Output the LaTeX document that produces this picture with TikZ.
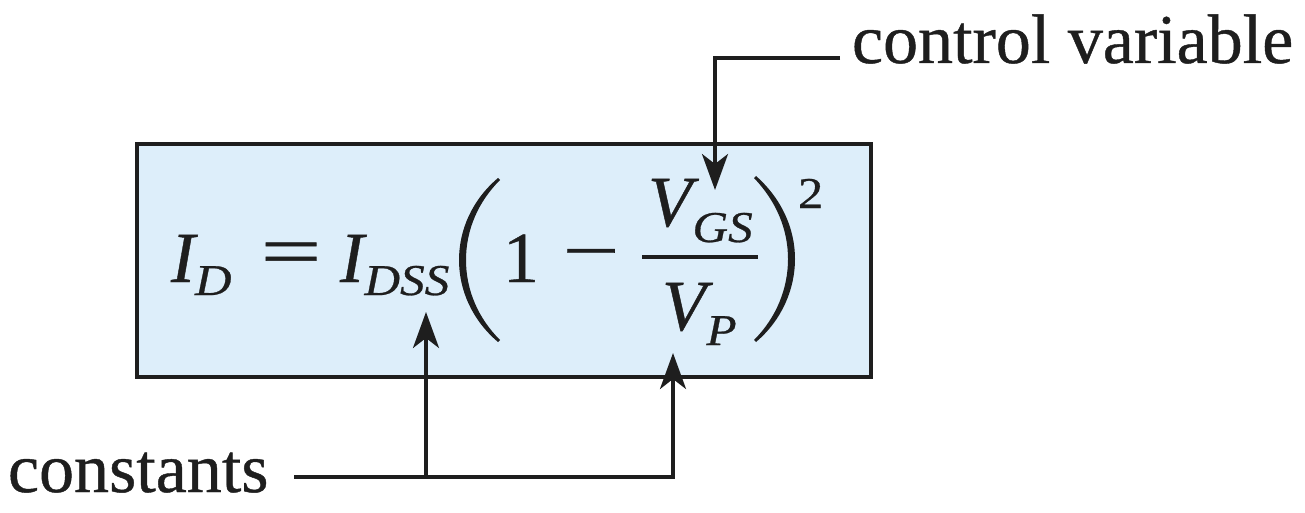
\documentclass[tikz,border=0pt]{standalone}
\usepackage{fontspec}
\setmainfont{Liberation Serif}[FakeBold=0.6, ItalicFeatures={FakeBold=0.6}]
\usetikzlibrary{arrows.meta}
\definecolor{boxfill}{RGB}{221,238,250}
\definecolor{ink}{RGB}{30,30,30}
\tikzset{
  lbl/.style={font=\fontsize{70}{80}\selectfont, text=ink, inner sep=0pt, outer sep=0pt},
  eqm/.style={font=\fontsize{72}{80}\selectfont\itshape, text=ink, inner sep=0pt, outer sep=0pt},
  eqs/.style={font=\fontsize{44}{50}\selectfont\itshape, text=ink, inner sep=0pt, outer sep=0pt},
  eqr/.style={font=\fontsize{72}{80}\selectfont, text=ink, inner sep=0pt, outer sep=0pt},
  eqsup/.style={font=\fontsize{44}{50}\selectfont, text=ink, inner sep=0pt, outer sep=0pt},
  conn/.style={draw=ink, line width=3.5pt, -{Stealth[length=36pt,width=26pt,inset=10pt]}},
  frame/.style={draw=ink, line width=4pt, fill=boxfill},
}
\begin{document}
\begin{tikzpicture}[x=1pt,y=-1pt]
\useasboundingbox (0,0) rectangle (1305,513);
% box
\path[frame] (137,144) rectangle (871,377);
% equation
\node[eqm, anchor=base west] (iD) at (171,282) {I};
\node[eqs, anchor=base west] (iDs) at (195,295) {\scalebox{1.15}[1]{D}};
\node[eqr] (eq) at (291,259) {\scalebox{1.5}[1]{=}};
\node[eqm, anchor=base west] (iDSS) at (340,282) {I};
\node[eqs, anchor=base west] (iDSSs) at (364.5,295) {\scalebox{1.12}[1]{DSS}};
\fill[ink] (498,178) .. controls (472,200) and (459,230) .. (459,260) .. controls (459,290) and (472,320) .. (498,342) -- (500,340) .. controls (478,318) and (466,290) .. (466,260) .. controls (466,230) and (478,202) .. (500,180) -- cycle;
\node[eqr, anchor=base] (one) at (521,282) {1};
\node[eqr] (minus) at (591,262) {\scalebox{1.4}[1]{−}};
\draw[ink, line width=4pt] (642,257) -- (758,257);
\node[eqm, anchor=base west] (vGS) at (648,226) {V};
\node[eqs, anchor=base west] (vGSs) at (692.5,242) {\scalebox{1.12}[1]{GS}};
\node[eqm, anchor=base west] (vP) at (662,330) {V};
\node[eqs, anchor=base west] (vPs) at (706.5,345) {\scalebox{1.12}[1]{P}};
\fill[ink] (756,176) .. controls (782,199) and (795,229) .. (795,259) .. controls (795,289) and (782,320) .. (756,342) -- (754,340) .. controls (776,318) and (788,289) .. (788,259) .. controls (788,229) and (776,201) .. (754,178) -- cycle;
\node[eqsup, anchor=base west] (sq) at (798,208) {\scalebox{1.15}[1]{2}};
% labels
\node[lbl, anchor=base west] (cv) at (852,63) {control variable};
\node[lbl, anchor=base west] (const) at (8,492) {constants};
\coordinate (cvTip) at (715,190);
\coordinate (tipA) at (426,312);
\coordinate (tipB) at (673,353);
\coordinate (constStart) at (294,477);
% connectors
\draw[conn] ([xshift=-12pt,yshift=5pt]cv.base west) -| (cvTip);
\draw[conn] (constStart) -| (tipB);
\draw[conn] (tipA |- constStart) -- (tipA);
\end{tikzpicture}
\end{document}
